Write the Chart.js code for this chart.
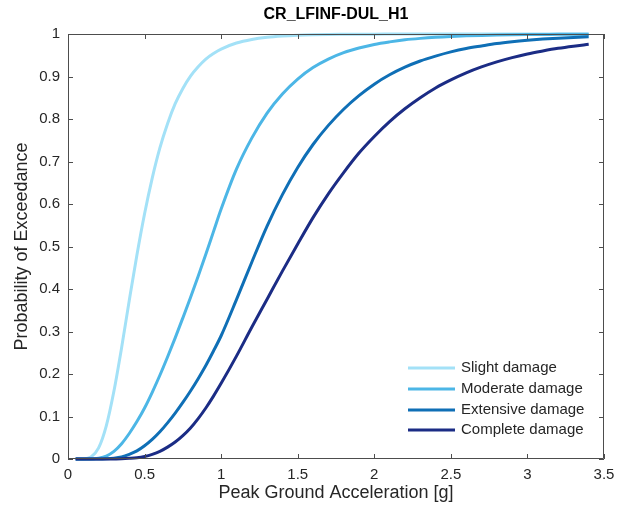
<!DOCTYPE html>
<html>
<head>
<meta charset="utf-8">
<script src="https://cdn.jsdelivr.net/npm/chart.js@4"></script>
<style>
html,body{margin:0;padding:0;background:#fff;}
#wrap{width:624px;height:511px;position:relative;}
</style>
</head>
<body>
<div id="wrap"><canvas id="c" width="624" height="511"></canvas></div>
<script>
const chartTitle = "CR_LFINF-DUL_H1";
const xTitle = "Peak Ground Acceleration [g]";
const yTitle = "Probability of Exceedance";
const seriesNames = ["Slight damage", "Moderate damage", "Extensive damage", "Complete damage"];
const seriesColors = ["#a3e1f7", "#4cb6e6", "#0f6fb6", "#1b2c85"];
const xTickValues = [0, 0.5, 1, 1.5, 2, 2.5, 3, 3.5];
const yTickValues = [0, 0.1, 0.2, 0.3, 0.4, 0.5, 0.6, 0.7, 0.8, 0.9, 1];

const pga = [0.05, 0.1, 0.15, 0.2, 0.25, 0.3, 0.35, 0.4, 0.45, 0.5, 0.55, 0.6, 0.65, 0.7, 0.75, 0.8, 0.85, 0.9, 0.95, 1.0,
             1.1, 1.2, 1.3, 1.4, 1.5, 1.6, 1.7, 1.8, 1.9, 2.0, 2.1, 2.2, 2.3, 2.4, 2.5, 2.6, 2.7, 2.8, 2.9, 3.0, 3.1, 3.2, 3.3, 3.4];
const slight    = [0, 0.0002, 0.0046, 0.026, 0.078, 0.16, 0.262, 0.373, 0.48, 0.577, 0.661, 0.732, 0.789, 0.836, 0.872, 0.901, 0.923, 0.941, 0.954, 0.9645,
             0.9787, 0.9871, 0.9922, 0.9952, 0.997, 0.9981, 0.9988, 0.9992, 0.9995, 0.9997, 0.9998, 0.9999, 0.9999, 1, 1, 1, 1, 1, 1, 1, 1, 1, 1, 1];
const moderate  = [0, 0, 0, 0.002, 0.007, 0.018, 0.036, 0.06, 0.088, 0.12, 0.157, 0.197, 0.24, 0.285, 0.332, 0.38, 0.43, 0.482, 0.535, 0.588,
             0.682, 0.755, 0.814, 0.859, 0.894, 0.921, 0.941, 0.956, 0.967, 0.9755, 0.9815, 0.9863, 0.9897, 0.9923, 0.9942, 0.9956, 0.9967, 0.9975, 0.9981, 0.9986, 0.9989, 0.9992, 0.9994, 0.9995];
const extensive = [0, 0, 0, 0, 0.0005, 0.002, 0.005, 0.011, 0.019, 0.031, 0.046, 0.064, 0.085, 0.108, 0.133, 0.16, 0.189, 0.22, 0.254, 0.29,
             0.375, 0.463, 0.548, 0.622, 0.686, 0.74, 0.785, 0.823, 0.855, 0.882, 0.904, 0.922, 0.9365, 0.948, 0.958, 0.966, 0.972, 0.9776, 0.9818, 0.9852, 0.988, 0.9902, 0.992, 0.9934];
const complete  = [0, 0, 0, 0, 0, 0.0002, 0.0005, 0.0015, 0.003, 0.006, 0.011, 0.018, 0.028, 0.04, 0.055, 0.073, 0.095, 0.12, 0.148, 0.178,
             0.242, 0.31, 0.376, 0.442, 0.506, 0.568, 0.624, 0.674, 0.72, 0.759, 0.794, 0.824, 0.85, 0.873, 0.892, 0.9086, 0.9225, 0.9344, 0.9444, 0.953, 0.96, 0.9663, 0.9714, 0.9758];

const seriesValues = [slight, moderate, extensive, complete];

const FONT = "'Liberation Sans', Arial, Helvetica, sans-serif";
const AXIS_COLOR = "#4d4d4d";
const TEXT_COLOR = "#262626";

const datasets = seriesNames.map((name, k) => ({
  label: name,
  data: pga.map((x, i) => ({x: x, y: seriesValues[k][i]})),
  borderColor: seriesColors[k],
  backgroundColor: seriesColors[k],
  borderWidth: 3,
  pointRadius: 0,
  fill: false,
  cubicInterpolationMode: 'monotone',
  clip: 4,
  order: seriesNames.length - k
}));

const boxPlugin = {
  id: 'boxPlugin',
  afterDatasetsDraw(chart) {
    const {ctx, chartArea: a, scales} = chart;
    ctx.save();
    ctx.strokeStyle = AXIS_COLOR;
    ctx.lineWidth = 1;
    ctx.beginPath();
    ctx.rect(a.left + 0.5, a.top + 0.5, a.right - a.left - 1, a.bottom - a.top - 1);
    ctx.stroke();
    const L = 5;
    ctx.beginPath();
    scales.x.ticks.forEach(t => {
      const px = Math.round(scales.x.getPixelForValue(t.value)) + 0.5;
      ctx.moveTo(px, a.bottom); ctx.lineTo(px, a.bottom - L);
      ctx.moveTo(px, a.top); ctx.lineTo(px, a.top + L);
    });
    scales.y.ticks.forEach(t => {
      const py = Math.round(scales.y.getPixelForValue(t.value)) + 0.5;
      ctx.moveTo(a.left, py); ctx.lineTo(a.left + L, py);
      ctx.moveTo(a.right, py); ctx.lineTo(a.right - L, py);
    });
    ctx.stroke();
    ctx.restore();
  },
  afterDraw(chart) {
    const {ctx, chartArea: a} = chart;
    ctx.save();
    ctx.fillStyle = '#000';
    ctx.font = "bold 16px " + FONT;
    ctx.textAlign = 'center';
    ctx.textBaseline = 'middle';
    ctx.fillText(chartTitle, (a.left + a.right) / 2, 15);
    ctx.font = "15px " + FONT;
    ctx.textAlign = 'left';
    ctx.fillStyle = TEXT_COLOR;
    const rows = [a.bottom - 91, a.bottom - 70, a.bottom - 49, a.bottom - 29];
    chart.data.datasets.forEach((ds, i) => {
      const y = rows[i];
      ctx.strokeStyle = ds.borderColor;
      ctx.lineWidth = 3;
      ctx.beginPath();
      ctx.moveTo(a.right - 196, y);
      ctx.lineTo(a.right - 149, y);
      ctx.stroke();
      ctx.fillText(ds.label, a.right - 143, y);
    });
    ctx.restore();
  }
};

new Chart(document.getElementById('c'), {
  type: 'line',
  data: {datasets: datasets},
  plugins: [boxPlugin],
  options: {
    responsive: false,
    animation: false,
    layout: {padding: {top: 34, right: 20, left: 0, bottom: 0}},
    plugins: {legend: {display: false}, tooltip: {enabled: false}, title: {display: false}},
    scales: {
      x: {
        type: 'linear',
        min: 0, max: 3.5,
        afterBuildTicks(scale) { scale.ticks = xTickValues.map(v => ({value: v})); },
        afterFit(scale) { scale.height = 52; },
        grid: {display: false, drawTicks: false},
        border: {display: false},
        ticks: {
          padding: 7,
          color: TEXT_COLOR,
          font: {family: FONT, size: 15},
          maxRotation: 0,
          autoSkip: false,
          callback: v => String(v)
        },
        title: {display: true, text: xTitle, color: TEXT_COLOR, font: {family: FONT, size: 18}, padding: {top: 0, bottom: 7}}
      },
      y: {
        type: 'linear',
        min: 0, max: 1,
        afterBuildTicks(scale) { scale.ticks = yTickValues.map(v => ({value: v})); },
        afterFit(scale) { scale.width = 68; },
        grid: {display: false, drawTicks: false},
        border: {display: false},
        ticks: {
          padding: 8,
          color: TEXT_COLOR,
          font: {family: FONT, size: 15},
          autoSkip: false,
          callback: v => String(v)
        },
        title: {display: true, text: yTitle, color: TEXT_COLOR, font: {family: FONT, size: 18}, padding: {top: 11, bottom: 0}}
      }
    }
  }
});
</script>
</body>
</html>
